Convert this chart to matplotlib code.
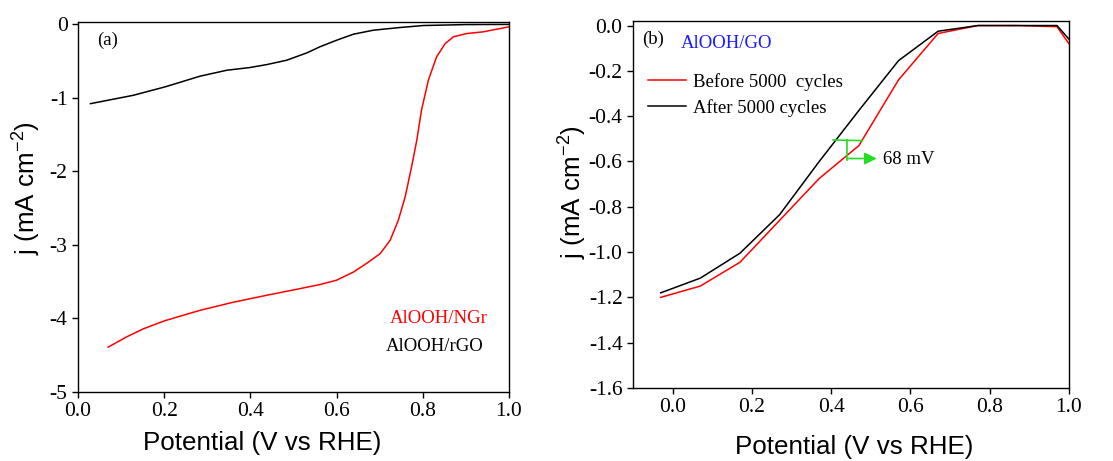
import matplotlib
matplotlib.use("Agg")
import matplotlib.pyplot as plt

plt.rcParams['axes.unicode_minus'] = False
plt.rcParams['mathtext.default'] = 'regular'

SERIF = 'Liberation Serif'
SANS = 'Liberation Sans'

# ---- panel (a) data ----
rgo_x = [0.029, 0.128, 0.202, 0.283, 0.345, 0.399, 0.438, 0.484, 0.531, 0.561,
         0.600, 0.639, 0.685, 0.747, 0.801, 0.902, 1.000]
rgo_j = [-1.08, -0.967, -0.852, -0.707, -0.626, -0.589, -0.549, -0.490, -0.39, -0.308,
         -0.218, -0.136, -0.082, -0.045, -0.018, -0.005, -0.003]

ngr_x = [0.070, 0.113, 0.152, 0.202, 0.283, 0.360, 0.438, 0.515, 0.561, 0.600,
         0.639, 0.670, 0.701, 0.724, 0.743, 0.759, 0.774, 0.786, 0.797, 0.813,
         0.832, 0.852, 0.871, 0.902, 0.940, 1.000]
ngr_j = [-4.39, -4.25, -4.14, -4.03, -3.89, -3.78, -3.685, -3.595, -3.54, -3.48,
         -3.37, -3.25, -3.12, -2.94, -2.67, -2.35, -1.94, -1.58, -1.17, -0.76,
         -0.444, -0.263, -0.172, -0.127, -0.104, -0.036]

# ---- panel (b) data ----
go_x = [-0.03, 0.07, 0.17, 0.27, 0.37, 0.47, 0.57, 0.67, 0.77, 0.87, 0.97, 1.00]
before_j = [-1.20, -1.15, -1.045, -0.86, -0.675, -0.53, -0.24, -0.035, 0.0, 0.0, -0.005, -0.08]
after_j = [-1.18, -1.115, -1.005, -0.835, -0.60, -0.375, -0.155, -0.025, 0.0, 0.0, 0.0, -0.06]

# 68 mV shift marker
shift_h = ([0.405, 0.479], [-0.505, -0.508])
shift_v = ([0.44, 0.44], [-0.506, -0.595])
arrow_from = (0.44, -0.587)
arrow_to = (0.515, -0.587)

fig = plt.figure(figsize=(11.13, 4.61), dpi=100)
ax1 = fig.add_axes([0.0701, 0.1497, 0.3872, 0.8026])
ax2 = fig.add_axes([0.5687, 0.1584, 0.3917, 0.7960])

def style(ax):
    ax.tick_params(direction='out', length=4, width=1, labelsize=15.5,
                   top=False, right=False)
    for lab in ax.get_xticklabels() + ax.get_yticklabels():
        lab.set_fontfamily(SERIF)
    for sp in ax.spines.values():
        sp.set_linewidth(1.0)

# (a)
ax1.plot(rgo_x, rgo_j, color='black', lw=1.1)
ax1.plot(ngr_x, ngr_j, color='#ff0000', lw=1.1)
ax1.set_xlim(0, 1.0)
ax1.set_ylim(-5, 0.03)
ax1.set_xticks([0.0, 0.2, 0.4, 0.6, 0.8, 1.0])
ax1.set_xticklabels(['0.0', '0.2', '0.4', '0.6', '0.8', '1.0'])
ax1.set_yticks([0, -1, -2, -3, -4, -5])
ax1.set_yticklabels(['0', '-1', '-2', '-3', '-4', '-5'])
style(ax1)
ax1.set_xlabel('Potential (V vs RHE)', fontsize=18.7, fontfamily=SANS)
ax1.set_ylabel('j (mA cm$^{-2}$)', fontsize=18.7, fontfamily=SANS)
ax1.xaxis.set_label_coords(0.427, -0.138)
ax1.xaxis.label.set_va('center')
ax1.yaxis.set_label_coords(-0.118, 0.551)
ax1.yaxis.label.set_va('center')
ax1.text(0.045, 0.95, '(a)', transform=ax1.transAxes, fontsize=13.5, fontfamily=SERIF,
         va='center', ha='left')
ax1.text(0.95, 0.198, 'AlOOH/NGr', transform=ax1.transAxes, fontsize=13.5, fontfamily=SERIF,
         color='#ff0000', va='center', ha='right')
ax1.text(0.94, 0.122, 'AlOOH/rGO', transform=ax1.transAxes, fontsize=13.5, fontfamily=SERIF,
         color='black', va='center', ha='right')

# (b)
ax2.plot(go_x, before_j, color='#ff0000', lw=1.1, label='Before 5000  cycles')
ax2.plot(go_x, after_j, color='black', lw=1.1, label='After 5000 cycles')
ax2.plot(*shift_h, color='#22dd22', lw=1.2)
ax2.plot(*shift_v, color='#22dd22', lw=1.2)
ax2.annotate('', xy=arrow_to, xytext=arrow_from,
             arrowprops=dict(arrowstyle='-|>', color='#22dd22', lw=1.2, mutation_scale=18,
                             shrinkA=0, shrinkB=0))
ax2.text(0.532, -0.59, '68 mV', fontsize=13.5, fontfamily=SERIF, va='center', ha='left')
ax2.set_xlim(-0.1, 1.0)
ax2.set_ylim(-1.6, 0.02)
ax2.set_xticks([0.0, 0.2, 0.4, 0.6, 0.8, 1.0])
ax2.set_xticklabels(['0.0', '0.2', '0.4', '0.6', '0.8', '1.0'])
yt = [0.0, -0.2, -0.4, -0.6, -0.8, -1.0, -1.2, -1.4, -1.6]
ax2.set_yticks(yt)
ax2.set_yticklabels(['%.1f' % v for v in yt])
style(ax2)
ax2.set_xlabel('Potential (V vs RHE)', fontsize=18.7, fontfamily=SANS)
ax2.set_ylabel('j (mA cm$^{-2}$)', fontsize=18.7, fontfamily=SANS)
ax2.xaxis.set_label_coords(0.507, -0.161)
ax2.xaxis.label.set_va('center')
ax2.yaxis.set_label_coords(-0.138, 0.534)
ax2.yaxis.label.set_va('center')
ax2.text(0.02, 0.95, '(b)', transform=ax2.transAxes, fontsize=13.5, fontfamily=SERIF,
         va='center', ha='left')
ax2.text(0.11, 0.94, 'AlOOH/GO', transform=ax2.transAxes, fontsize=13.5, fontfamily=SERIF,
         color='#1a1aff', va='center', ha='left')
ax2.legend(loc='upper left', bbox_to_anchor=(0.005, 0.895), frameon=False,
           prop={'family': SERIF, 'size': 13.5}, handlelength=2.0, handletextpad=0.4,
           labelspacing=0.45, borderaxespad=0.3)

fig.savefig('out.png', dpi=100, facecolor='white')
